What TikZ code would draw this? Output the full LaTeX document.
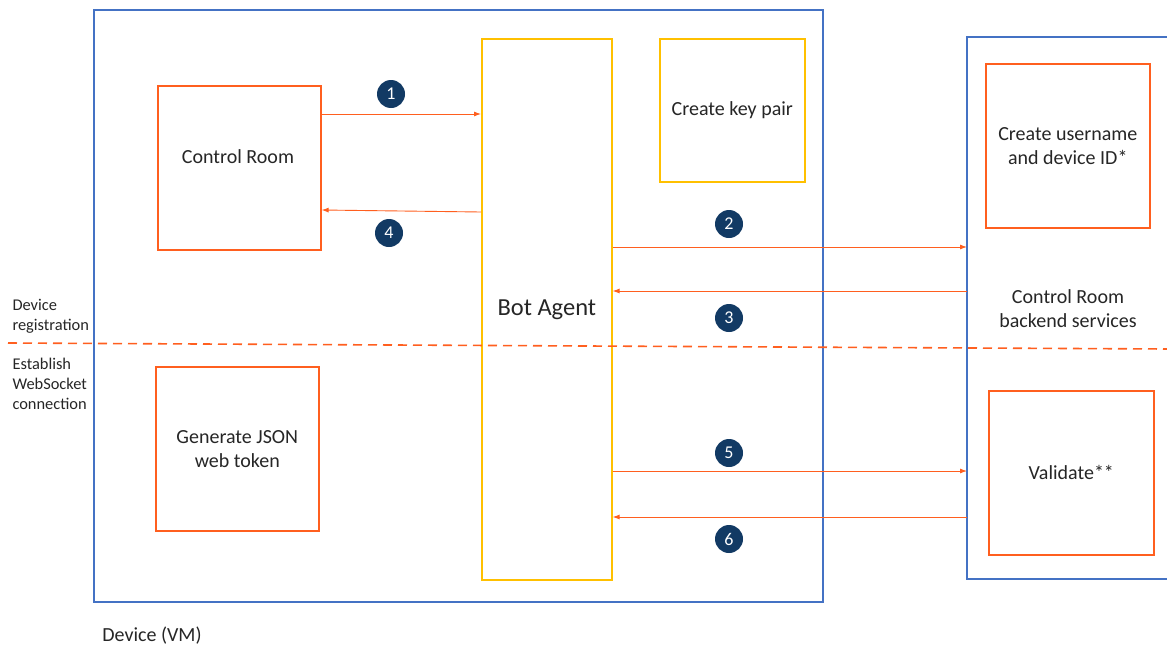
\documentclass[tikz,border=0pt]{standalone}
\usepackage{fontspec}
\setmainfont{Carlito}
\usetikzlibrary{arrows.meta}
\definecolor{devblue}{HTML}{4472C4}
\definecolor{orng}{HTML}{FF5F1F}
\definecolor{gold}{HTML}{FFC000}
\definecolor{navy}{HTML}{123A64}
\definecolor{txt}{HTML}{262626}
\tikzset{
  obox/.style={draw=orng, line width=1.6pt, text=txt, font=\fontsize{20}{24}\selectfont, align=center, anchor=north west, inner sep=0pt},
  gbox/.style={draw=gold, line width=1.6pt, text=txt, font=\fontsize{20}{24}\selectfont, align=center, anchor=north west, inner sep=0pt},
  numc/.style={circle, fill=navy, text=white, minimum size=28pt, inner sep=0pt, font=\fontsize{18}{18}\selectfont},
  flow/.style={draw=orng, line width=0.9pt, -{Latex[length=7pt,width=5pt]}},
  lbl/.style={text=txt, font=\fontsize{20}{24}\selectfont, align=center},
  sidelbl/.style={text=txt, font=\fontsize{16.4}{20}\selectfont, align=left, anchor=west},
}
\begin{document}
\begin{tikzpicture}[x=1pt,y=-1pt]
\useasboundingbox (0,0) rectangle (1167,648);
\fill[white] (0,0) rectangle (1167,648);
% device box
\node[draw=devblue, line width=1.6pt, minimum width=729pt, minimum height=592pt, anchor=north west, inner sep=0pt] (dev) at (93,9) {};
% right backend box (open at right edge)
\draw[devblue, line width=1.6pt] (1170,37) -- (967,37) -- (967,579) -- (1170,579);
\coordinate (bl) at (967,300);
% boxes
\node[obox, minimum width=163pt, minimum height=164pt] (cr) at (157,85) {};
\node[lbl] (crt) at (238,157) {Control Room};
\node[obox, minimum width=163pt, minimum height=164pt] (jwt) at (155,366) {Generate JSON\\web token};
\node[gbox, minimum width=130pt, minimum height=541pt, font=\fontsize{24.5}{28}\selectfont] (ba) at (481,38) {Bot Agent};
\node[gbox, minimum width=145pt, minimum height=143pt] (kp) at (659,38) {Create key pair};
\node[obox, minimum width=164pt, minimum height=164pt] (cu) at (985,63) {Create username\\and device ID*};
\node[obox, minimum width=165pt, minimum height=164pt] (val) at (988,390) {Validate**};
\node[lbl] (crbs) at (1068,309) {Control Room\\backend services};
% dashed separator
\coordinate (dl) at (8,343);
\coordinate (dr) at (1167,349);
\draw[orng, line width=1.6pt, dash pattern=on 9pt off 6pt] (dl) -- (dr);
% side labels
\node[sidelbl] (reg) at (9,316) {Device\\registration};
\node[sidelbl] (ws) at (9,384) {Establish\\WebSocket\\connection};
\node[text=txt, font=\fontsize{20}{24}\selectfont] (vm) at (152,636) {Device (VM)};
% arrows
\draw[flow] (cr.east |- 0,114) -- (ba.west |- 0,114);
\draw[flow] (ba.west |- 0,212) -- (cr.east |- 0,210);
\draw[flow] (ba.east |- 0,247) -- (bl |- 0,247);
\draw[flow] (bl |- 0,291) -- (ba.east |- 0,291);
\draw[flow] (ba.east |- 0,471) -- (bl |- 0,471);
\draw[flow] (bl |- 0,517) -- (ba.east |- 0,517);
% numbers
\node[numc] (n1) at (391,94) {1};
\node[numc] (n4) at (389,233) {4};
\node[numc] (n2) at (729,224) {2};
\node[numc] (n3) at (729,318) {3};
\node[numc] (n5) at (729,453) {5};
\node[numc] (n6) at (729,539) {6};
\end{tikzpicture}
\end{document}
